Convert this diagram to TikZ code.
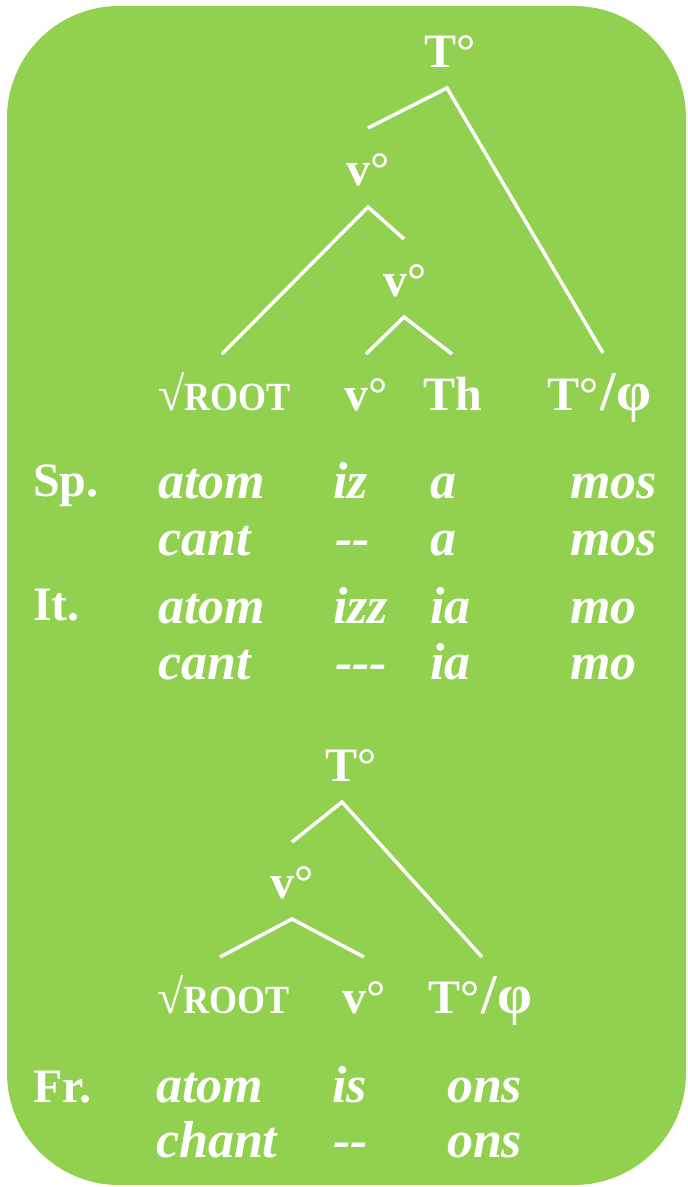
\documentclass[tikz,border=0pt]{standalone}
\usepackage{fontspec}
\setmainfont{Liberation Serif}
\newfontfamily\narrowfont[FakeStretch=0.9]{Liberation Serif}
\definecolor{boxgreen}{HTML}{92D050}
\begin{document}
\begin{tikzpicture}[x=1pt,y=-1pt,
  lbl/.style={anchor=base west, inner sep=0pt, outer sep=0pt, text=white, font=\fontsize{48}{48}\selectfont\bfseries},
  ex/.style={lbl, font=\fontsize{52}{52}\selectfont\bfseries\itshape},
  branch/.style={draw=white, line width=3.5pt}]
\newcommand{\rootlbl}{\char"221A{\narrowfont\bfseries\fontsize{40}{40}\selectfont ROOT}}
\newcommand{\tphi}{T°\kern2pt{\fontsize{56}{56}\selectfont/}\kern1pt{\fontsize{56}{56}\selectfont φ}}
\useasboundingbox (0,0) rectangle (688,1187);
\fill[boxgreen, rounded corners=112pt] (7,6) rectangle (686,1185);

% ---------- upper tree ----------
\node[lbl] (T1) at (424,67) {T°};
\node[lbl] (v1) at (346,185) {v°};
\node[lbl] (v2) at (383,296) {v°};
\node[lbl] (root1) at (158,410) {\rootlbl};
\node[lbl] (v3) at (344,410) {v°};
\node[lbl] (th) at (423,410) {Th};
\node[lbl] (tphi1) at (547,410) {\tphi};

\coordinate (a1) at (447,88);
\coordinate (a1l) at (368,128);
\coordinate (a1r) at (603,353);
\coordinate (a2) at (368,207);
\coordinate (a2l) at (222,354);
\coordinate (a2r) at (404,239);
\coordinate (a3) at (404,317);
\coordinate (a3l) at (366,354);
\coordinate (a3r) at (452,354);
\draw[branch] (a1l) -- (a1) -- (a1r);
\draw[branch] (a2l) -- (a2) -- (a2r);
\draw[branch] (a3l) -- (a3) -- (a3r);

% ---------- Spanish / Italian ----------
\node[lbl] (sp) at (33,496) {Sp.};
\node[ex] (sp1a) at (158,498) {atom};
\node[ex] (sp1b) at (333,498) {iz};
\node[ex] (sp1c) at (430,498) {a};
\node[ex] (sp1d) at (570,498) {mos};
\node[ex] (sp2a) at (158,555) {cant};
\node[ex] (sp2b) at (335,555) {-{}-};
\node[ex] (sp2c) at (430,555) {a};
\node[ex] (sp2d) at (570,555) {mos};

\node[lbl] (it) at (33,620) {It.};
\node[ex] (it1a) at (158,623) {atom};
\node[ex] (it1b) at (333,623) {izz};
\node[ex] (it1c) at (430,623) {ia};
\node[ex] (it1d) at (570,623) {mo};
\node[ex] (it2a) at (158,679) {cant};
\node[ex] (it2b) at (335,679) {-{}-{}-};
\node[ex] (it2c) at (430,679) {ia};
\node[ex] (it2d) at (570,679) {mo};

% ---------- lower tree ----------
\node[lbl] (T2) at (325,781) {T°};
\node[lbl] (v4) at (270,898) {v°};
\node[lbl] (root2) at (157,1013) {\rootlbl};
\node[lbl] (v5) at (342,1013) {v°};
\node[lbl] (tphi2) at (428,1013) {\tphi};

\coordinate (b1) at (342,802);
\coordinate (b1l) at (292,842);
\coordinate (b1r) at (482,957);
\coordinate (b2) at (292,919);
\coordinate (b2l) at (220,957);
\coordinate (b2r) at (364,957);
\draw[branch] (b1l) -- (b1) -- (b1r);
\draw[branch] (b2l) -- (b2) -- (b2r);

% ---------- French ----------
\node[lbl] (fr) at (33,1102) {Fr.};
\node[ex] (fr1a) at (156,1102) {atom};
\node[ex] (fr1b) at (332,1102) {is};
\node[ex] (fr1c) at (447,1102) {ons};
\node[ex] (fr2a) at (156,1157) {chant};
\node[ex] (fr2b) at (333,1157) {-{}-};
\node[ex] (fr2c) at (447,1157) {ons};
\end{tikzpicture}
\end{document}
